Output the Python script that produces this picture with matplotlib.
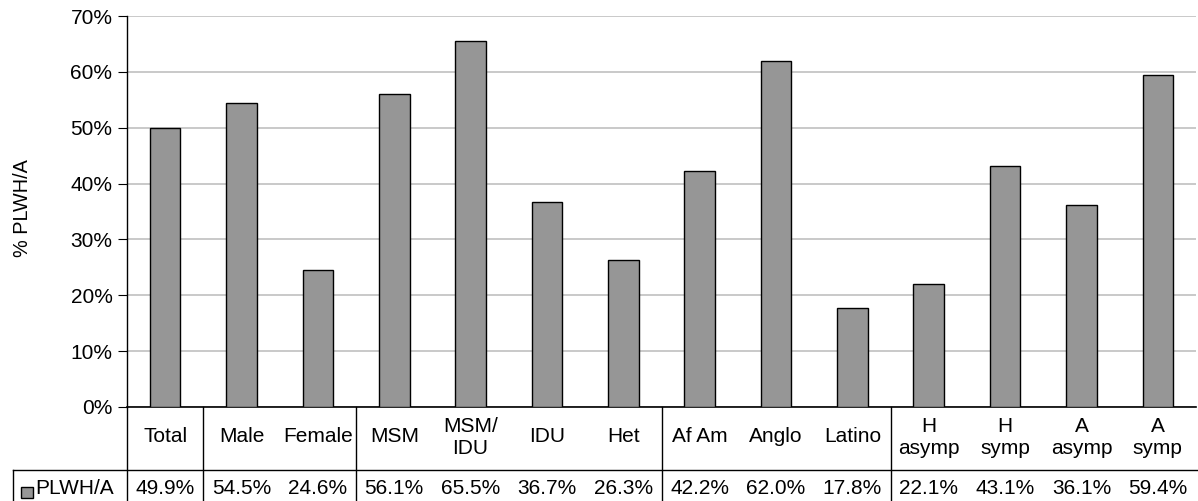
import matplotlib.pyplot as plt
import matplotlib.transforms as mtransforms
from matplotlib.lines import Line2D
from matplotlib.patches import Rectangle
from matplotlib.ticker import FuncFormatter, MultipleLocator

plt.rcParams['font.family'] = ['Liberation Sans', 'DejaVu Sans']

# data
categories = ["Total", "Male", "Female", "MSM", "MSM/\nIDU", "IDU", "Het",
              "Af Am", "Anglo", "Latino", "H\nasymp", "H\nsymp", "A\nasymp", "A\nsymp"]
plwha = [49.9, 54.5, 24.6, 56.1, 65.5, 36.7, 26.3, 42.2, 62.0, 17.8, 22.1, 43.1, 36.1, 59.4]
series_name = "PLWH/A"
# table column groups end after these category indices
group_ends = [0, 2, 6, 9]

W, H = 1198, 501
fig = plt.figure(figsize=(W / 100, H / 100), dpi=100)
ax_left, ax_right, ax_top, ax_bottom = 127, 1196, 16, 407
ax = fig.add_axes([ax_left / W, 1 - ax_bottom / H,
                   (ax_right - ax_left) / W, (ax_bottom - ax_top) / H])

x = list(range(len(categories)))
ax.bar(x, plwha, width=0.4, color="#969696", edgecolor="black", linewidth=1, zorder=3)

ax.set_xlim(-0.5, len(categories) - 0.5)
ax.set_ylim(0, 70)
ax.yaxis.set_major_locator(MultipleLocator(10))
ax.yaxis.set_major_formatter(FuncFormatter(lambda v, p: f"{v:.0f}%"))
ax.grid(axis="y", color="#c0c0c0", linewidth=1.2, zorder=0)
ax.set_xticks([])
for s in ["top", "right"]:
    ax.spines[s].set_visible(False)
ax.spines["left"].set_color("#000000")
ax.spines["left"].set_linewidth(1)
ax.spines["bottom"].set_linewidth(1.2)
ax.tick_params(axis="y", direction="out", length=6.5, labelsize=15, pad=4)

fs = 15
fy = lambda py: 1 - py / H
fx = lambda px: px / W
fig.text(fx(23), fy(208), "% PLWH/A", rotation=90, ha="center", va="center", fontsize=14.3)

# data table below the axis
blend = mtransforms.blended_transform_factory(ax.transData, fig.transFigure)
row_line = 470

for i, cat in enumerate(categories):
    ax.text(i, fy(437), cat, transform=blend, ha="center", va="center",
            fontsize=fs, linespacing=1.2)
    ax.text(i, fy(489), f"{plwha[i]:.1f}%", transform=blend, ha="center",
            va="center", fontsize=fs)

lines = [
    # horizontal rule between label row and value row
    Line2D([fx(13), fx(ax_right + 2)], [fy(row_line), fy(row_line)]),
    # left edge of value row
    Line2D([fx(13), fx(13)], [fy(row_line), fy(H)]),
    # axis continued through the table
    Line2D([fx(ax_left), fx(ax_left)], [fy(ax_bottom), fy(H)]),
]
for ln in lines:
    ln.set_transform(fig.transFigure)
    ln.set_color("black")
    ln.set_linewidth(1)
    fig.add_artist(ln)

for g in group_ends:
    ln = Line2D([g + 0.5, g + 0.5], [fy(ax_bottom), fy(H)], transform=blend,
                color="black", linewidth=1)
    fig.add_artist(ln)

# legend key in the value row
fig.add_artist(Rectangle((fx(21), fy(498)), 12 / W, 11 / H, transform=fig.transFigure,
                         facecolor="#969696", edgecolor="black", linewidth=1))
fig.text(fx(35), fy(489), series_name, ha="left", va="center", fontsize=fs)

fig.savefig("out.png", dpi=100)
